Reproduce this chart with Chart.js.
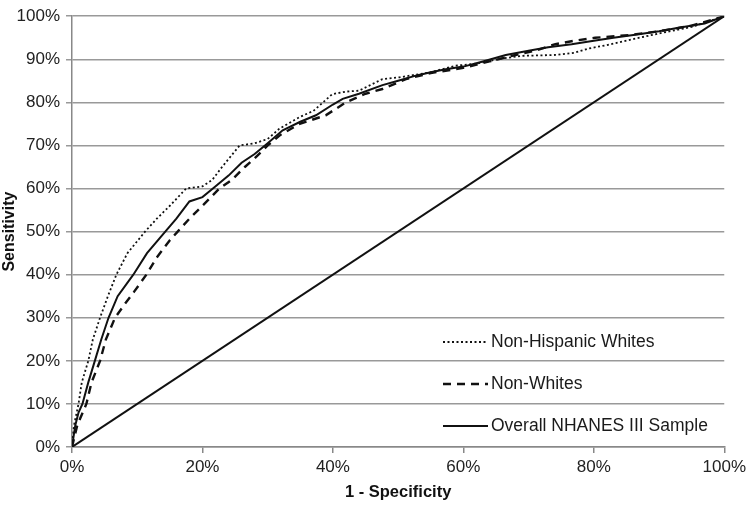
<!DOCTYPE html>
<html>
<head>
<meta charset="utf-8">
<script src="https://cdn.jsdelivr.net/npm/chart.js@4"></script>
<style>
  html, body { margin: 0; padding: 0; background: #fff; }
  #wrap { width: 750px; height: 506px; position: relative; }
</style>
</head>
<body>
<div id="wrap"><canvas id="roc"></canvas></div>
<script>
'use strict'

// ROC curves, values (x = 1 - specificity %, y = sensitivity %)
const overallX = [0, 0.5, 1, 1.6, 2.5, 3.5, 4.5, 5.6, 7, 9.4, 11.5, 14.3, 16, 18, 20, 21.6, 24, 26, 28, 30, 32.3, 35, 37.4, 40, 41.5, 44, 47.6, 50, 52.7, 55, 57.3, 60, 63, 66.5, 70, 73, 76.6, 80, 83, 86.9, 90, 93, 97, 100];
const overallY = [0, 5, 8, 10, 15, 20, 25, 30, 35, 40, 45, 50, 53, 57, 58, 60, 63, 66, 68, 70.5, 73.5, 75.5, 77, 79.5, 80.8, 82, 84, 85, 86.2, 87, 87.7, 88.3, 89.5, 91, 92, 92.8, 93.5, 94.3, 95, 95.8, 96.5, 97.3, 98.3, 100];

const whitesX = [0, 0.3, 1, 1.5, 2.5, 3.2, 4.3, 5.5, 6.8, 8.5, 11.2, 13, 15, 17.5, 20, 21.5, 23, 25.7, 28, 30, 31.8, 34.9, 37, 39.9, 42, 44, 47.6, 50.2, 55, 58.8, 62, 66, 69, 74.1, 77, 79.2, 82, 85.8, 90, 95, 100];
const whitesY = [0, 5, 10, 15, 20, 25, 30, 35, 40, 45, 50, 53, 56, 60, 60.5, 62, 65, 70, 70.5, 71.5, 73.9, 76.6, 78, 81.9, 82.5, 82.7, 85.4, 85.8, 87, 88.5, 89, 90.2, 90.8, 91, 91.5, 92.5, 93.3, 94.6, 96, 97.5, 100];

const nonWhitesX = [0, 0.8, 2.2, 3, 4.3, 5.2, 6.6, 8, 9.5, 11.4, 13, 15, 16.2, 18, 20, 22.6, 24.5, 26.5, 28, 30, 32, 34.9, 36.5, 38.9, 42, 45, 47.6, 51.2, 55, 60, 64, 68, 71, 74.1, 77, 80.2, 85.3, 90, 95, 100];
const nonWhitesY = [0, 5, 10, 15, 20, 25, 30, 33, 36, 40, 44, 48, 50, 53, 56, 60, 62, 65, 67, 70, 72.5, 75, 75.8, 77, 80, 82, 83.1, 85.4, 86.8, 88, 89.5, 91, 92, 93.5, 94.3, 95, 95.6, 96.5, 97.8, 100];

const refX = [0, 100];
const refY = [0, 100];

const legendLabels = ['Non-Hispanic Whites', 'Non-Whites', 'Overall NHANES III Sample'];

const pts = (xs, ys) => xs.map((x, i) => ({ x: x, y: ys[i] }));

const font = 'Liberation Sans, Arial, sans-serif';
const ink = '#111';

// legend drawn inside the plot, bottom right, without a box
const insideLegend = {
  id: 'insideLegend',
  afterDraw(chart) {
    const ctx = chart.ctx;
    const dashes = [[2, 2.5], [8, 6], []];
    const widths = [1.8, 2.4, 2];
    const rows = [342, 384, 426];
    ctx.save();
    ctx.font = '17.5px ' + font;
    ctx.textBaseline = 'middle';
    ctx.fillStyle = '#1a1a1a';
    rows.forEach((y, i) => {
      ctx.beginPath();
      ctx.setLineDash(dashes[i]);
      ctx.lineWidth = widths[i];
      ctx.strokeStyle = ink;
      ctx.moveTo(443, y);
      ctx.lineTo(488, y);
      ctx.stroke();
      ctx.setLineDash([]);
      ctx.fillText(legendLabels[i], 491, y);
    });
    ctx.restore();
  }
};

const ctx = document.getElementById('roc');

new Chart(ctx, {
  type: 'line',
  data: {
    datasets: [{
      label: legendLabels[0],
      data: pts(whitesX, whitesY),
      borderColor: ink,
      borderWidth: 1.8,
      borderDash: [2, 2.5],
      pointRadius: 0,
      tension: 0
    }, {
      label: legendLabels[1],
      data: pts(nonWhitesX, nonWhitesY),
      borderColor: ink,
      borderWidth: 2.4,
      borderDash: [8, 6],
      pointRadius: 0,
      tension: 0
    }, {
      label: legendLabels[2],
      data: pts(overallX, overallY),
      borderColor: ink,
      borderWidth: 2,
      pointRadius: 0,
      tension: 0
    }, {
      label: 'reference',
      data: pts(refX, refY),
      borderColor: ink,
      borderWidth: 2,
      pointRadius: 0
    }]
  },
  options: {
    responsive: true,
    maintainAspectRatio: false,
    animation: false,
    layout: { padding: { top: 13, right: 24, left: 0, bottom: 0 } },
    plugins: {
      legend: { display: false },
      tooltip: { enabled: false }
    },
    scales: {
      x: {
        type: 'linear',
        min: 0,
        max: 100,
        afterFit(scale) { scale.height = 59; },
        border: { color: '#888', width: 1.5 },
        grid: { drawOnChartArea: false, color: '#888', tickLength: 6, lineWidth: 1.5 },
        ticks: {
          stepSize: 20,
          padding: 4,
          color: '#222',
          font: { family: font, size: 17 },
          callback: v => v + '%'
        },
        title: {
          display: true,
          text: '1 - Specificity',
          color: '#111',
          font: { family: font, size: 16.5, weight: 'bold' },
          padding: { top: 2 }
        }
      },
      y: {
        type: 'linear',
        min: 0,
        max: 100,
        afterFit(scale) { scale.width = 72; },
        border: { color: '#888', width: 1.5 },
        grid: { color: '#999', tickLength: 6, lineWidth: 1.5 },
        ticks: {
          stepSize: 10,
          padding: 6,
          color: '#222',
          font: { family: font, size: 17 },
          callback: v => v + '%'
        },
        title: {
          display: true,
          text: 'Sensitivity',
          color: '#111',
          font: { family: font, size: 16, weight: 'bold' },
          padding: { top: 0, bottom: 0 }
        }
      }
    }
  },
  plugins: [insideLegend]
});
</script>
</body>
</html>
